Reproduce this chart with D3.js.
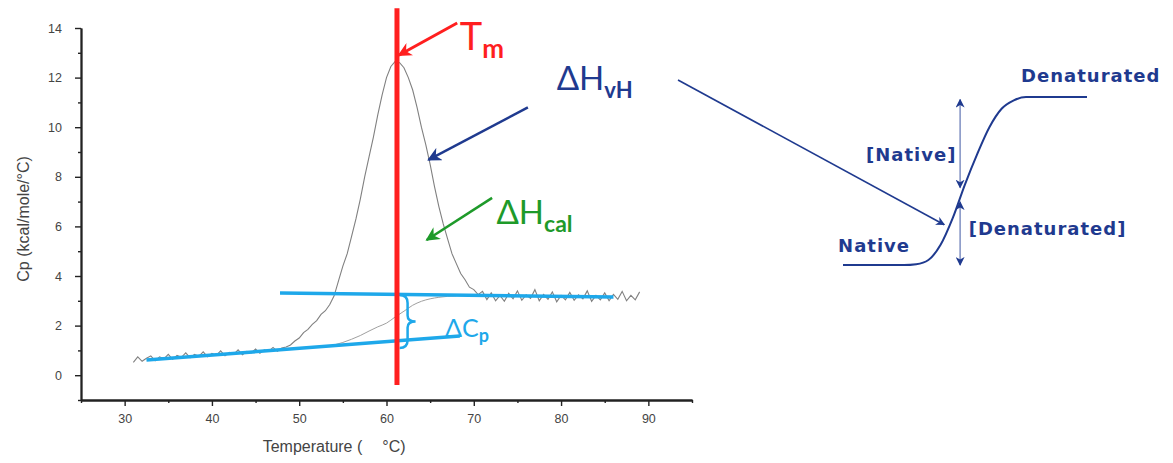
<!DOCTYPE html>
<html><head><meta charset="utf-8">
<script src="https://cdn.jsdelivr.net/npm/d3@7"></script>
<style>
html,body{margin:0;padding:0;background:#fff;}
svg{display:block;}
.tick text{font-family:"Liberation Sans",Arial,sans-serif;font-size:12.5px;fill:#444;}
</style></head>
<body><svg id="c" width="1173" height="463"></svg>
<script>
// ---------- data ----------
const temps = [31,31.5,32,32.5,33,33.5,34,34.5,35,35.5,36,36.5,37,37.5,38,38.5,39,39.5,40,40.5,41,41.5,42,42.5,43,43.5,44,44.5,45,45.5,46,46.5,47,47.5,48,48.5,49,49.5,50,50.5,51,51.5,52,52.5,53,53.5,54,54.5,55,55.5,56,56.5,57,57.5,58,58.5,59,59.5,60,60.5,61,61.5,62,62.5,63,63.5,64,64.5,65,65.5,66,66.5,67,67.5,68,68.5,69,69.5,70,70.5,71,71.5,72,72.5,73,73.5,74,74.5,75,75.5,76,76.5,77,77.5,78,78.5,79,79.5,80,80.5,81,81.5,82,82.5,83,83.5,84,84.5,85,85.5,86,86.5,87,87.5,88,88.5,89];
const cp = [0.52,0.74,0.56,0.68,0.78,0.58,0.74,0.66,0.84,0.64,0.80,0.72,0.90,0.70,0.84,0.76,0.94,0.74,0.88,0.80,0.98,0.78,0.92,0.84,1.02,0.82,0.96,0.90,1.06,0.88,1.02,0.96,1.12,0.96,1.10,1.14,
  1.22,1.38,1.50,1.72,1.85,2.05,2.20,2.45,2.60,2.85,3.20,3.80,4.40,4.90,5.60,6.30,7.10,8.00,8.80,9.60,10.50,11.30,12.00,12.45,12.65,12.60,12.40,12.00,11.50,10.80,10.00,9.30,8.50,7.60,6.80,6.10,5.50,4.90,4.50,4.10,3.85,3.55,3.45,
  3.25,3.38,3.05,3.32,3.00,3.22,2.98,3.30,3.08,3.40,3.02,3.24,3.10,3.45,3.00,3.26,3.06,3.36,2.96,3.22,3.04,3.34,3.02,3.24,3.08,3.40,2.98,3.22,3.04,3.32,3.00,3.26,3.06,3.38,3.00,3.22,3.04,3.36];
const baseTemps = [54,55,56,57,58,59,60,61,62,63,64,65,66,67,68];
const baseCp = [1.22,1.32,1.45,1.60,1.78,1.95,2.10,2.35,2.58,2.82,2.98,3.08,3.14,3.18,3.20];
const yTicks = [0,2,4,6,8,10,12,14];
const yMinor = [-1,1,3,5,7,9,11,13];
const xTicks = [30,40,50,60,70,80,90];
const xMinor = [25,35,45,55,65,75,85,95];
const tm = 61.2;
const upperBase = [[47.8,3.31],[86.0,3.15]];
const lowerBase = [[32.5,0.61],[68.4,1.58]];
// schematic (right) : fraction denatured vs arbitrary temperature
const schemX = [0,2.5,3,3.5,4,4.5,5,5.5,6,6.5,7,7.5,10];
const schemF = [0,0,0.005,0.03,0.12,0.28,0.48,0.66,0.82,0.93,0.98,1,1];

// ---------- layout ----------
const svg = d3.select("#c");
const x = d3.scaleLinear([25,95],[81,692]);
const y = d3.scaleLinear([-1,14],[400,28]);
const sx = d3.scaleLinear([0,10],[843,1087]);
const sy = d3.scaleLinear([0,1],[265,97]);

const NAVY="#1f3a8f", RED="#ff1f1f", GREEN="#1e9a2a", SKY="#1ea8ea";

const defs = svg.append("defs");
function marker(id,color,size){
  defs.append("marker").attr("id",id).attr("viewBox","0 0 10 10").attr("refX",9).attr("refY",5)
    .attr("markerWidth",size).attr("markerHeight",size).attr("orient","auto-start-reverse")
    .attr("markerUnits","userSpaceOnUse")
    .append("path").attr("d","M0,0 L10,5 L0,10 L3,5 Z").attr("fill",color);
}
marker("aRed",RED,14); marker("aNavy",NAVY,14); marker("aGreen",GREEN,14); marker("aNavyS",NAVY,9);

// axes
svg.append("g").attr("transform",`translate(${x(25)},0)`)
  .call(d3.axisLeft(y).tickValues(yTicks).tickSize(6).tickSizeOuter(0).tickPadding(13));
svg.append("g").attr("transform",`translate(${x(25)},0)`)
  .call(d3.axisLeft(y).tickValues(yMinor).tickSize(3).tickSizeOuter(0).tickFormat(""));
svg.append("g").attr("transform",`translate(0,${y(-1)})`)
  .call(d3.axisBottom(x).tickValues(xTicks).tickSize(6).tickSizeOuter(0).tickPadding(8));
svg.append("g").attr("transform",`translate(0,${y(-1)})`)
  .call(d3.axisBottom(x).tickValues(xMinor).tickSize(3).tickSizeOuter(0).tickFormat(""));
svg.selectAll(".domain").attr("stroke","#222").attr("stroke-width",1.8);
svg.selectAll(".tick line").attr("stroke","#222").attr("stroke-width",1.4);

svg.append("text").attr("transform",`translate(29,${y(6.3)}) rotate(-90)`).attr("text-anchor","middle")
  .attr("font-family","Liberation Sans, Arial").attr("font-size",16).attr("fill","#444")
  .text("Cp (kcal/mole/°C)");
const xt = svg.append("text").attr("x",x(54)).attr("y",452).attr("text-anchor","middle")
  .attr("font-family","Liberation Sans, Arial").attr("font-size",16).attr("fill","#444");
xt.append("tspan").text("Temperature (");
xt.append("tspan").attr("dx",20).text("°C)");

// data curve
const pts = temps.map((t,i)=>[t,cp[i]]);
svg.append("path").datum(pts).attr("fill","none").attr("stroke","#808080").attr("stroke-width",1.1)
  .attr("d",d3.line().x(d=>x(d[0])).y(d=>y(d[1])));
const bpts = baseTemps.map((t,i)=>[t,baseCp[i]]);
svg.append("path").datum(bpts).attr("fill","none").attr("stroke","#a0a0a0").attr("stroke-width",1)
  .attr("d",d3.line().curve(d3.curveMonotoneX).x(d=>x(d[0])).y(d=>y(d[1])));

// baselines
[upperBase,lowerBase].forEach(l=>{
  svg.append("line").attr("x1",x(l[0][0])).attr("y1",y(l[0][1])).attr("x2",x(l[1][0])).attr("y2",y(l[1][1]))
    .attr("stroke",SKY).attr("stroke-width",3.5);
});
// brace for dCp
(function(){
  const bx = x(61.5), t = y(3.23), b = y(1.10), m=(t+b)/2, w=8;
  const d = `M${bx},${t} Q${bx+w},${t} ${bx+w},${t+8} L${bx+w},${m-6} Q${bx+w},${m} ${bx+w+8},${m} Q${bx+w},${m} ${bx+w},${m+6} L${bx+w},${b-8} Q${bx+w},${b} ${bx},${b}`;
  svg.append("path").attr("d",d).attr("fill","none").attr("stroke",SKY).attr("stroke-width",2.5);
})();

// Tm line
svg.append("line").attr("x1",x(tm)).attr("x2",x(tm)).attr("y1",y(14.8)).attr("y2",y(-0.4))
  .attr("stroke",RED).attr("stroke-width",5);

// annotation arrows
function arrow(p0,p1,color,mk,w){
  svg.append("line").attr("x1",x(p0[0])).attr("y1",y(p0[1])).attr("x2",x(p1[0])).attr("y2",y(p1[1]))
    .attr("stroke",color).attr("stroke-width",w).attr("marker-end",`url(#${mk})`);
}
arrow([68.1,14.2],[61.4,12.9],RED,"aRed",3);
arrow([76.2,10.8],[64.8,8.68],NAVY,"aNavy",2.5);
arrow([72.1,7.15],[64.6,5.45],GREEN,"aGreen",2.5);

function label(xv,yv,main,sub,color,fs,sfs,dy){
  const t = svg.append("text").attr("x",x(xv)).attr("y",y(yv)).attr("fill",color)
    .attr("font-family","Lato, Noto Sans, sans-serif").attr("font-size",fs);
  t.append("tspan").text(main);
  t.append("tspan").attr("font-size",sfs).attr("font-weight","bold").attr("dy",dy).text(sub);
}
label(68.4,13.1,"T","m",RED,38,26,8);
label(79.5,11.5,"ΔH","vH",NAVY,33,22,8);
label(72.6,6.1,"ΔH","cal",GREEN,33,23,8);
label(66.7,1.54,"ΔC","p",SKY,25,18,5);

// ---------- schematic on the right ----------
svg.append("line").attr("x1",678).attr("y1",80).attr("x2",sx(4.15)).attr("y2",sy(0.24))
  .attr("stroke",NAVY).attr("stroke-width",1.6).attr("marker-end","url(#aNavyS)");
const spts = schemX.map((v,i)=>[v,schemF[i]]);
svg.append("path").datum(spts).attr("fill","none").attr("stroke",NAVY).attr("stroke-width",2)
  .attr("d",d3.line().curve(d3.curveMonotoneX).x(d=>sx(d[0])).y(d=>sy(d[1])));
function varrow(xv,f0,f1){
  svg.append("line").attr("x1",sx(xv)).attr("x2",sx(xv)).attr("y1",sy(f0)).attr("y2",sy(f1))
    .attr("stroke","#7f8fc2").attr("stroke-width",1.5)
    .attr("marker-start","url(#aNavyS)").attr("marker-end","url(#aNavyS)");
}
varrow(4.8,0.985,0.46);
varrow(4.8,0.375,0.0);
function stext(xv,fv,txt,anchor){
  svg.append("text").attr("x",sx(xv)).attr("y",sy(fv)).attr("text-anchor",anchor)
    .attr("font-family","DejaVu Sans, sans-serif").attr("font-weight","bold").attr("font-size",18)
    .attr("letter-spacing",1).attr("fill",NAVY).text(txt);
}
stext(7.3,1.09,"Denaturated","start");
stext(4.65,0.62,"[Native]","end");
stext(5.15,0.18,"[Denaturated]","start");
stext(-0.2,0.08,"Native","start");
</script></body></html>
